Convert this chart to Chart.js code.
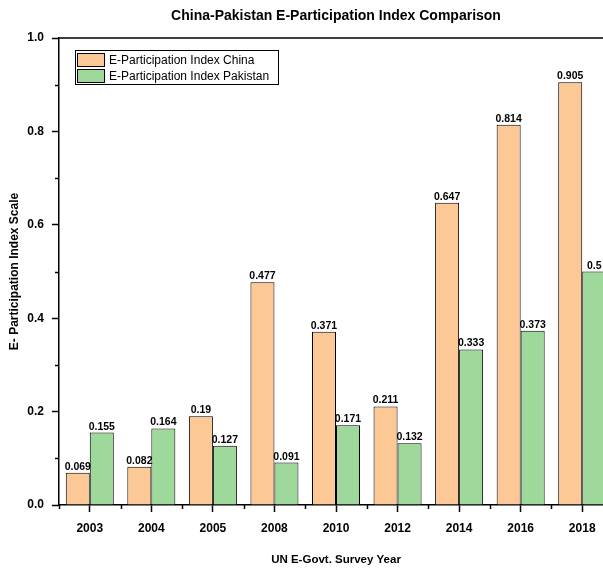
<!DOCTYPE html>
<html>
<head>
<meta charset="utf-8">
<script src="https://cdn.jsdelivr.net/npm/chart.js@4.4.1/dist/chart.umd.min.js"></script>
<style>
  html, body { margin: 0; padding: 0; background: #fff; overflow: hidden; }
  #wrap { width: 613px; height: 569px; }
</style>
</head>
<body>
<div id="wrap"><canvas id="c" width="613" height="569"></canvas></div>
<script>
const years = ['2003', '2004', '2005', '2008', '2010', '2012', '2014', '2016', '2018'];
const chinaValues = [0.069, 0.082, 0.19, 0.477, 0.371, 0.211, 0.647, 0.814, 0.905];
const pakistanValues = [0.155, 0.164, 0.127, 0.091, 0.171, 0.132, 0.333, 0.373, 0.5];
const seriesNames = ['E-Participation Index China', 'E-Participation Index Pakistan'];
const yTickStep = 0.2;
const yMinorTicks = [0.1, 0.3, 0.5, 0.7, 0.9];

const FONT = '"Liberation Sans", Arial, Helvetica, sans-serif';
Chart.defaults.font.family = FONT;
Chart.defaults.color = '#000';

const COL_CHINA = 'rgb(252,200,150)';
const COL_PAK = 'rgb(158,216,155)';

const extrasPlugin = {
  id: 'extras',
  afterDraw(chart) {
    const ctx = chart.ctx;
    const {left, right, top, bottom} = chart.chartArea;
    const xs = chart.scales.x, ys = chart.scales.y;
    ctx.save();
    ctx.strokeStyle = '#000';
    ctx.lineWidth = 1.5;
    // top frame
    ctx.beginPath();
    ctx.moveTo(left, top);
    ctx.lineTo(right + 2, top);
    ctx.stroke();
    // y minor ticks
    yMinorTicks.forEach(v => {
      const py = Math.round(ys.getPixelForValue(v)) + 0.5;
      ctx.beginPath();
      ctx.moveTo(left - 4, py);
      ctx.lineTo(left, py);
      ctx.stroke();
    });
    // x minor ticks at category boundaries
    for (let i = 0; i <= years.length; i++) {
      const px = Math.round(xs.getPixelForValue(i - 0.5)) + 0.5;
      ctx.beginPath();
      ctx.moveTo(px, bottom);
      ctx.lineTo(px, bottom + 4);
      ctx.stroke();
    }
    // legend
    const lx = 75, ly = 50, lw = 203, lh = 34;
    ctx.fillStyle = '#fff';
    ctx.fillRect(lx, ly, lw, lh);
    ctx.lineWidth = 1;
    ctx.strokeRect(lx + 0.5, ly + 0.5, lw, lh);
    ctx.font = '12px ' + FONT;
    ctx.textBaseline = 'middle';
    ctx.textAlign = 'left';
    chart.data.datasets.forEach((ds, i) => {
      const sy = ly + 3 + i * 16;
      ctx.fillStyle = ds.backgroundColor;
      ctx.fillRect(lx + 2, sy, 28, 14);
      ctx.strokeStyle = '#000';
      ctx.strokeRect(lx + 2.5, sy + 0.5, 27, 13);
      ctx.fillStyle = '#000';
      ctx.fillText(ds.label, lx + 34, sy + 7.5);
    });
    ctx.restore();
  },
  afterDatasetsDraw(chart) {
    const ctx = chart.ctx;
    ctx.save();
    ctx.font = 'bold 10.5px ' + FONT;
    ctx.fillStyle = '#000';
    ctx.textAlign = 'center';
    ctx.textBaseline = 'alphabetic';
    chart.data.datasets.forEach((ds, di) => {
      const meta = chart.getDatasetMeta(di);
      meta.data.forEach((el, i) => {
        ctx.fillText(String(ds.data[i]), el.x, el.y - 3);
      });
    });
    ctx.restore();
  }
};

new Chart(document.getElementById('c'), {
  type: 'bar',
  data: {
    labels: years,
    datasets: [
      { label: seriesNames[0], data: chinaValues, backgroundColor: COL_CHINA, borderColor: '#000', borderWidth: 1 },
      { label: seriesNames[1], data: pakistanValues, backgroundColor: COL_PAK, borderColor: '#000', borderWidth: 1 }
    ]
  },
  options: {
    responsive: false,
    animation: false,
    devicePixelRatio: 1,
    layout: { padding: 0 },
    datasets: { bar: { categoryPercentage: 0.78, barPercentage: 1.0 } },
    plugins: {
      legend: { display: false },
      tooltip: { enabled: false },
      title: {
        display: true,
        fullSize: false,
        text: 'China-Pakistan E-Participation Index Comparison',
        font: { size: 14, weight: 'bold' },
        color: '#000',
        padding: { top: 7.5, bottom: 13.7 }
      }
    },
    scales: {
      x: {
        afterFit: s => { s.height = 64; },
        grid: { display: true, drawOnChartArea: false, offset: false, drawTicks: true, tickLength: 7, tickColor: '#000', tickWidth: 1.5 },
        border: { display: true, color: '#000', width: 1.5 },
        ticks: { font: { size: 12, weight: 'bold' }, color: '#000', padding: 9, maxRotation: 0 },
        title: { display: true, text: 'UN E-Govt. Survey Year', font: { size: 11.5, weight: 'bold' }, color: '#000', padding: { top: 0, bottom: 2 } }
      },
      y: {
        min: 0, max: 1,
        afterFit: s => { s.width = 59; },
        grid: { display: true, drawOnChartArea: false, drawTicks: true, tickLength: 7, tickColor: '#000', tickWidth: 1.5 },
        border: { display: true, color: '#000', width: 1.5 },
        ticks: { stepSize: yTickStep, font: { size: 12, weight: 'bold' }, color: '#000', padding: 8, callback: v => Number(v).toFixed(1) },
        title: { display: true, text: 'E- Participation Index Scale', font: { size: 12, weight: 'bold' }, color: '#000', padding: { top: 7, bottom: 0 } }
      }
    }
  },
  plugins: [extrasPlugin]
});
</script>
</body>
</html>
